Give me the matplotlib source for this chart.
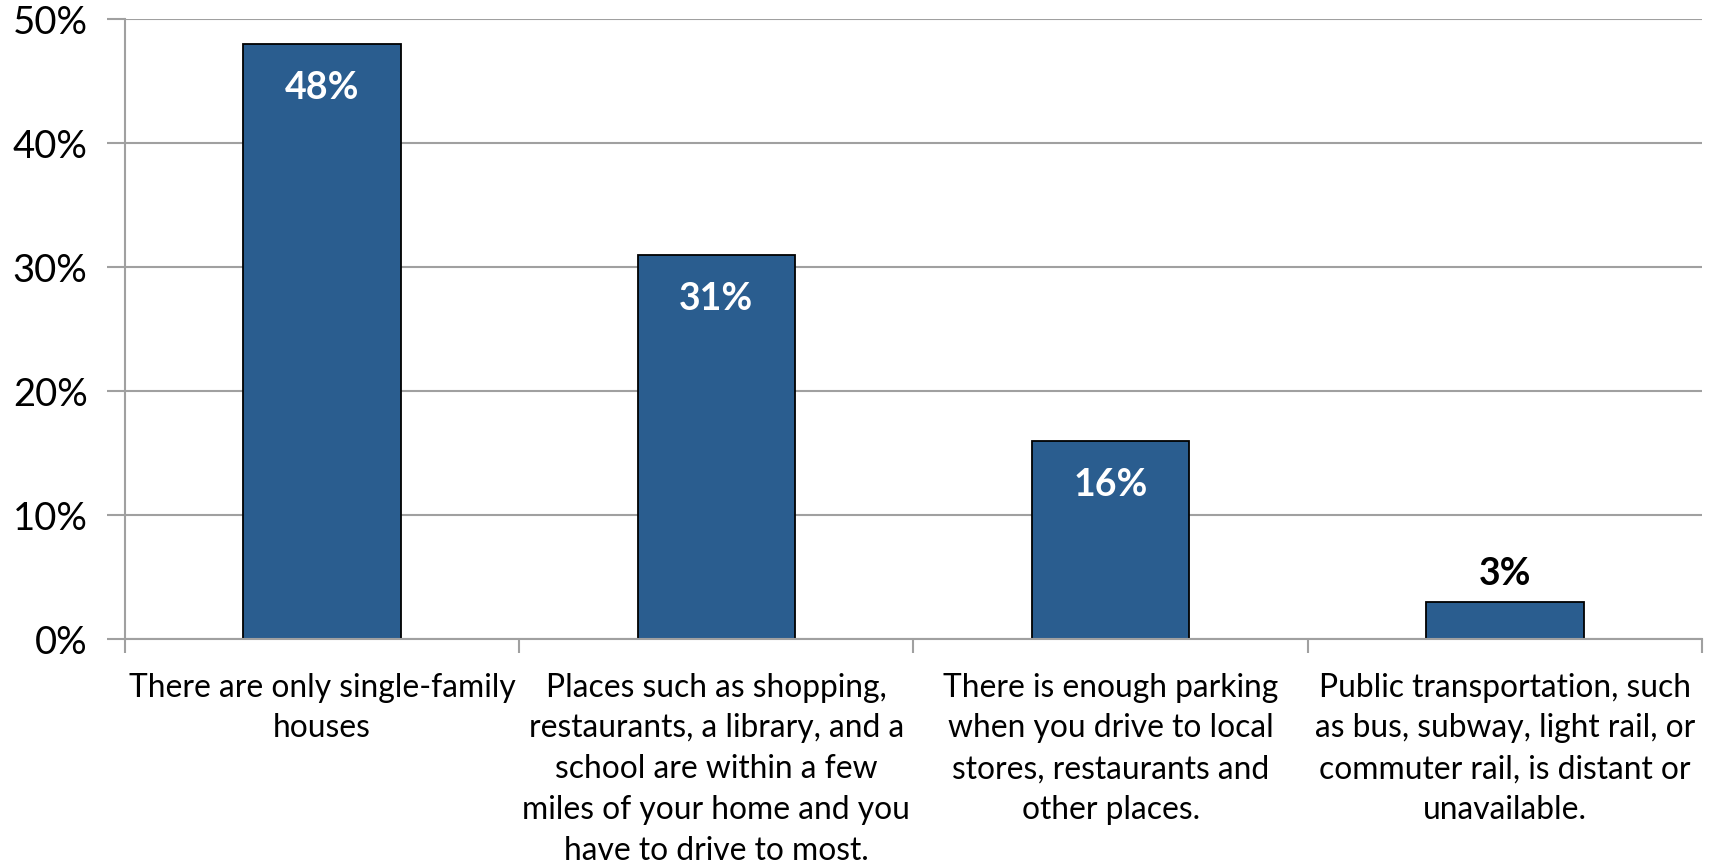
import matplotlib
matplotlib.use("Agg")
import matplotlib.pyplot as plt
from matplotlib.ticker import FixedLocator, PercentFormatter

categories = [
    "There are only single-family\nhouses",
    "Places such as shopping,\nrestaurants, a library, and a\nschool are within a few\nmiles of your home and you\nhave to drive to most.",
    "There is enough parking\nwhen you drive to local\nstores, restaurants and\nother places.",
    "Public transportation, such\nas bus, subway, light rail, or\ncommuter rail, is distant or\nunavailable.",
]
values = [48, 31, 16, 3]
yticks = [0, 10, 20, 30, 40, 50]

plt.rcParams['font.family'] = ['Lato', 'DejaVu Sans']

fig = plt.figure(figsize=(17.1, 8.65), dpi=100)
ax = fig.add_axes([0.0731, 0.2609, 0.9953 - 0.0731, 0.9777 - 0.2609])

x = list(range(len(values)))
bars = ax.bar(x, values, width=0.40, color="#2A5D8F", edgecolor="black", linewidth=1.3, zorder=3)

ax.set_xlim(-0.5, len(values) - 0.5)
ax.set_ylim(0, 50)
ax.yaxis.set_major_locator(FixedLocator(yticks))
ax.yaxis.set_major_formatter(PercentFormatter(decimals=0))
ax.grid(axis="y", color="#A0A0A0", linewidth=1.5, zorder=0)

ax.set_xticks(x)
ax.set_xticklabels(categories, fontsize=22.9, linespacing=1.45)
ax.xaxis.set_minor_locator(FixedLocator([i - 0.5 for i in range(len(values) + 1)]))
ax.tick_params(axis="x", which="major", length=0, pad=24)
ax.tick_params(axis="x", which="minor", length=10, width=1.5, color="#A0A0A0")
ax.tick_params(axis="y", length=13, width=1.5, color="#A0A0A0", labelsize=27.5, pad=14)

for s in ["top", "right"]:
    ax.spines[s].set_visible(False)
for s in ["left", "bottom"]:
    ax.spines[s].set_color("#A0A0A0")
    ax.spines[s].set_linewidth(1.5)
ax.spines["bottom"].set_zorder(4)

for xi, v in zip(x, values):
    if v >= 10:
        ax.annotate(f"{v}%", (xi, v), xytext=(0, -44 * 0.72), textcoords="offset points",
                    ha="center", va="center", color="white", fontsize=27, fontweight="bold", zorder=5)
    else:
        ax.annotate(f"{v}%", (xi, v), xytext=(0, 28 * 0.72), textcoords="offset points",
                    ha="center", va="center", color="black", fontsize=27, fontweight="bold", zorder=5)

fig.savefig("out.png", dpi=100)
